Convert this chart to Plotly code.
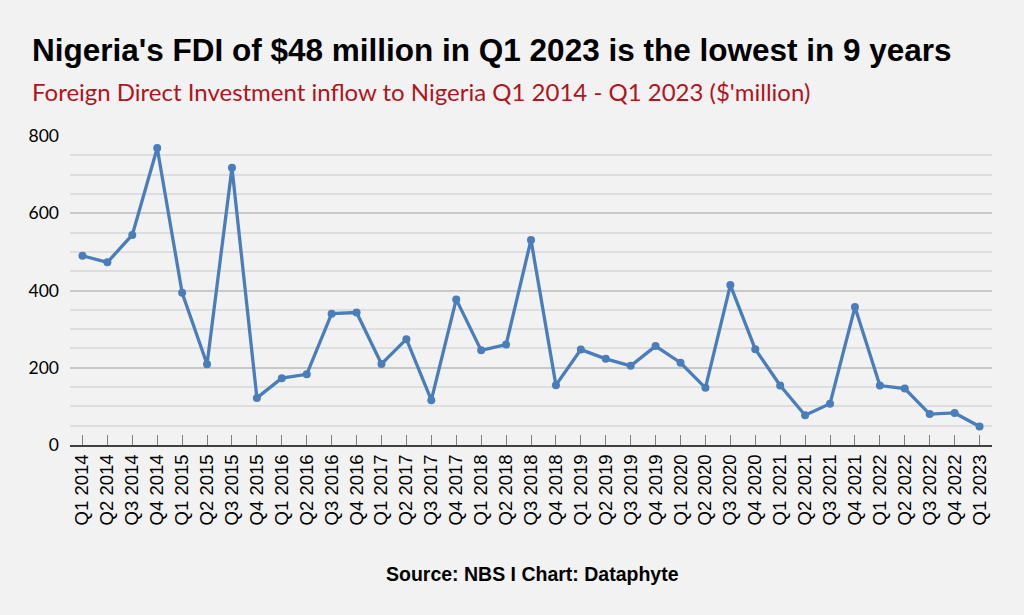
import plotly.graph_objects as go

# quarters Q1 2014 .. Q1 2023
quarters = [f"Q{q} {y}" for y in range(2014, 2023) for q in range(1, 5)] + ["Q1 2023"]

# FDI inflow, $ million
fdi = [490, 473, 544, 769, 394, 209, 718, 122, 173, 183, 340, 343,
       210, 274, 116, 377, 245, 260, 531, 155, 247, 223, 205, 256,
       213, 148, 414, 248, 154, 77, 107, 357, 154, 146, 80, 83, 48]

title = "Nigeria's FDI of $48 million in Q1 2023 is the lowest in 9 years"
subtitle = "Foreign Direct Investment inflow to Nigeria Q1 2014 - Q1 2023 ($'million)"
source = "Source: NBS I Chart: Dataphyte"

BG = "#f2f2f2"
BLUE = "#4a7ebb"

fig = go.Figure()
fig.add_trace(go.Scatter(
    x=quarters, y=fdi, mode="lines+markers",
    line=dict(color=BLUE, width=3.3),
    marker=dict(color=BLUE, size=8),
    hoverinfo="x+y",
))

# plot area: x 70..992, y 136..445 px
def px_x(px):
    return (px - 70) / 922

def px_y(py):
    return (445 - py) / 309

fig.add_annotation(text=f"<b>{title}</b>", xref="paper", yref="paper",
                   x=px_x(30), y=px_y(50), xanchor="left", yanchor="middle",
                   showarrow=False,
                   font=dict(family="Liberation Sans, Arial", size=31.5, color="#000000"))
fig.add_annotation(text=subtitle, xref="paper", yref="paper",
                   x=px_x(30), y=px_y(91), xanchor="left", yanchor="middle",
                   showarrow=False,
                   font=dict(family="Lato, Noto Sans", size=24, color="#b0141c"))
fig.add_annotation(text=f"<b>{source}</b>", xref="paper", yref="paper",
                   x=px_x(532), y=px_y(574), xanchor="center", yanchor="middle",
                   showarrow=False,
                   font=dict(family="Liberation Sans, Arial", size=19.5, color="#000000"))

fig.update_layout(
    width=1024, height=615,
    paper_bgcolor=BG, plot_bgcolor=BG,
    margin=dict(l=70, r=32, t=136, b=170),
    showlegend=False,
)

fig.update_xaxes(
    type="category", range=[-0.5, len(quarters) - 0.5],
    tickangle=-90, ticks="inside", ticklen=10, tickcolor="#808080", tickwidth=1,
    showline=True, linecolor="#404040", linewidth=2,
    showgrid=False, zeroline=False,
    tickfont=dict(family="Liberation Sans, Arial", size=18.5, color="#000000"),
)

fig.update_yaxes(
    range=[0, 800], dtick=200, tick0=0,
    showgrid=True, gridcolor="#c8c8c8", gridwidth=1.5,
    minor=dict(dtick=50, showgrid=True, gridcolor="#dedede", gridwidth=1.5),
    zeroline=False, showline=False, ticks="",
    ticklabelstandoff=10,
    tickfont=dict(family="Lato, Noto Sans", size=17.5, color="#000000"),
)

fig.write_html("out.html", config={"displayModeBar": False},
               post_script="document.body.style.margin='0px';")
